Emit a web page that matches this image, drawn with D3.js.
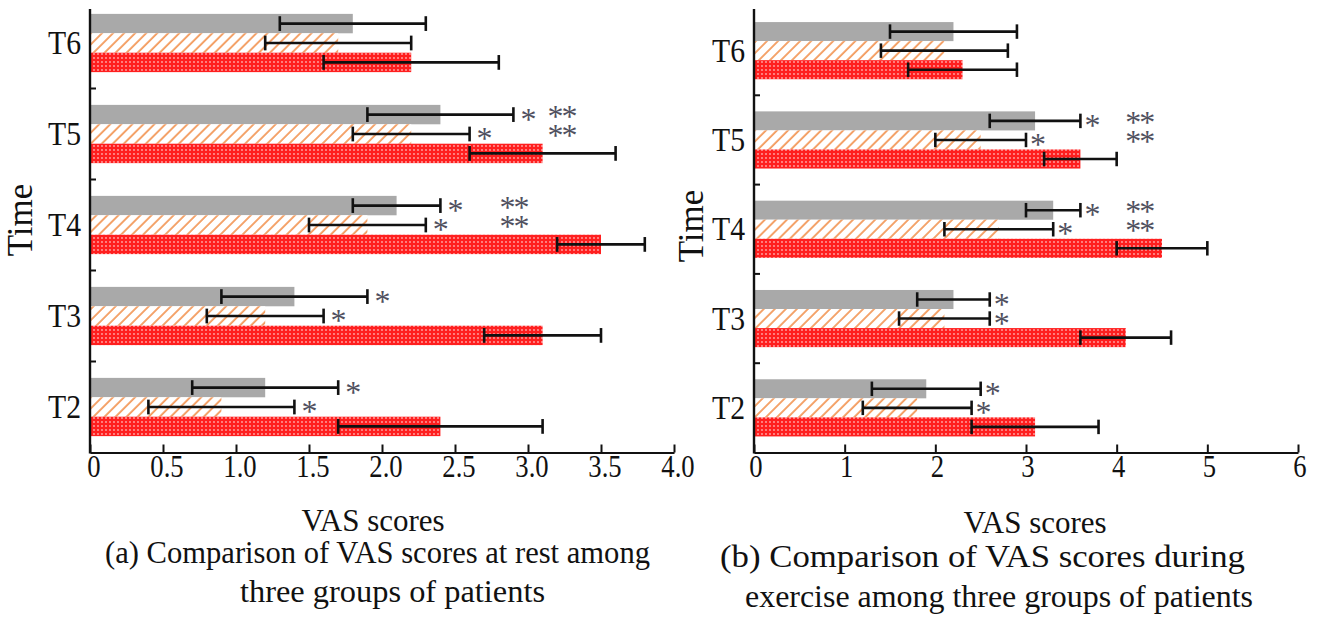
<!DOCTYPE html>
<html>
<head>
<meta charset="utf-8">
<script src="https://cdn.jsdelivr.net/npm/d3@7"></script>
<style>
  body { margin: 0; background: #fff; }
  svg text { font-family: "Times New Roman", "Liberation Serif", Tinos, Times, serif; fill: #111; }
</style>
</head>
<body>
<div id="chart"></div>
<script>
// categories (bottom to top on the chart)
const timePoints = ["T2", "T3", "T4", "T5", "T6"];
const groups = ["Group 1", "Group 2", "Group 3"]; // gray, hatched, red

// (a) VAS at rest: means and SDs per group
const restMean1 = [1.2, 1.4, 2.1, 2.4, 1.8];
const restSd1   = [0.5, 0.5, 0.3, 0.5, 0.5];
const restMean2 = [0.9, 1.2, 1.9, 2.2, 1.7];
const restSd2   = [0.5, 0.4, 0.4, 0.4, 0.5];
const restMean3 = [2.4, 3.1, 3.5, 3.1, 2.2];
const restSd3   = [0.7, 0.4, 0.3, 0.5, 0.6];
// significance marks (* after group 1 / group 2, ** pair at score value)
const restStar1 = [true, true, true, true, false];
const restStar2 = [true, true, true, true, false];
const restPair  = [null, null, 2.9, 3.23, null];

// (b) VAS during exercise
const exMean1 = [1.9, 2.2, 3.3, 3.1, 2.2];
const exSd1   = [0.6, 0.4, 0.3, 0.5, 0.7];
const exMean2 = [1.8, 2.1, 2.7, 2.5, 2.1];
const exSd2   = [0.6, 0.5, 0.6, 0.5, 0.7];
const exMean3 = [3.1, 4.1, 4.5, 3.6, 2.3];
const exSd3   = [0.7, 0.5, 0.5, 0.4, 0.6];
const exStar1 = [true, true, true, true, false];
const exStar2 = [true, true, true, true, false];
const exPair  = [null, null, 4.25, 4.25, null];

// tick values and labels
const restTicks = [0, 0.5, 1, 1.5, 2, 2.5, 3, 3.5, 4];
const restTickLabels = ["0", "0.5", "1.0", "1.5", "2.0", "2.5", "3.0", "3.5", "4.0"];
const exTicks = [0, 1, 2, 3, 4, 5, 6];
const exTickLabels = ["0", "1", "2", "3", "4", "5", "6"];

const width = 1323, height = 620;

const svg = d3.select("#chart")
    .append("svg")
    .attr("width", width)
    .attr("height", height);

// patterns
const defs = svg.append("defs");

const hatch = defs.append("pattern")
    .attr("id", "hatch")
    .attr("patternUnits", "userSpaceOnUse")
    .attr("width", 7.8)
    .attr("height", 7.8)
    .attr("patternTransform", "rotate(45)");
hatch.append("rect").attr("width", 7.8).attr("height", 7.8).attr("fill", "#fff");
hatch.append("line")
    .attr("x1", 2).attr("y1", 0).attr("x2", 2).attr("y2", 7.8)
    .attr("stroke", "#f39a5c")
    .attr("stroke-width", 1.8);

const dots = defs.append("pattern")
    .attr("id", "dots")
    .attr("patternUnits", "userSpaceOnUse")
    .attr("width", 4)
    .attr("height", 4);
dots.append("rect").attr("width", 4).attr("height", 4).attr("fill", "#ff1f1f");
dots.append("circle").attr("cx", 2).attr("cy", 2).attr("r", 0.9).attr("fill", "#ffaaaa");

const fills = ["#a9a9a9", "url(#hatch)", "url(#dots)"];
const baseY = 452.5;

function drawPanel(cfg) {
    const g = svg.append("g");

    const x = d3.scaleLinear()
        .domain([0, cfg.ticks[cfg.ticks.length - 1]])
        .range([cfg.x0, cfg.x1]);

    const y = d3.scaleBand()
        .domain(timePoints)
        .range([baseY, cfg.bandTop])
        .paddingInner(0)
        .paddingOuter(0);

    const sub = d3.scaleBand()
        .domain(groups)
        .range([y.bandwidth() * 0.18, y.bandwidth() * 0.82]);

    const rows = [];
    timePoints.forEach((t, i) => {
        groups.forEach((grp, j) => {
            rows.push({
                t: t, i: i, gi: j,
                mean: cfg.means[j][i],
                sd: cfg.sds[j][i],
                y: y(t) + sub(grp)
            });
        });
    });

    // bars
    g.selectAll("rect.bar")
        .data(rows)
        .enter()
        .append("rect")
        .attr("class", "bar")
        .attr("x", x(0))
        .attr("y", d => d.y)
        .attr("width", d => x(d.mean) - x(0))
        .attr("height", sub.bandwidth())
        .attr("fill", d => fills[d.gi]);

    // error bars
    const cap = sub.bandwidth() * 0.38;
    const mid = d => d.y + sub.bandwidth() / 2;
    const err = g.selectAll("g.err")
        .data(rows)
        .enter()
        .append("g")
        .attr("class", "err")
        .attr("stroke", "#111")
        .attr("stroke-width", 2.6);
    err.append("line")
        .attr("x1", d => x(d.mean - d.sd))
        .attr("x2", d => x(d.mean + d.sd))
        .attr("y1", mid)
        .attr("y2", mid);
    err.append("line")
        .attr("x1", d => x(d.mean - d.sd))
        .attr("x2", d => x(d.mean - d.sd))
        .attr("y1", d => mid(d) - cap)
        .attr("y2", d => mid(d) + cap);
    err.append("line")
        .attr("x1", d => x(d.mean + d.sd))
        .attr("x2", d => x(d.mean + d.sd))
        .attr("y1", d => mid(d) - cap)
        .attr("y2", d => mid(d) + cap);

    // significance stars
    const starSize = 32;
    const starShift = starSize * 0.47;
    const stars = rows.filter(d =>
        (d.gi === 0 && cfg.star1[d.i]) || (d.gi === 1 && cfg.star2[d.i]));
    g.selectAll("text.star")
        .data(stars)
        .enter()
        .append("text")
        .attr("class", "star")
        .attr("x", d => x(d.mean + d.sd) + cfg.starGap)
        .attr("y", d => mid(d) + starShift)
        .attr("text-anchor", "middle")
        .style("font-size", starSize + "px")
        .style("fill", "#50505e")
        .text("*");

    const pairs = rows.filter(d => d.gi < 2 && cfg.pair[d.i] != null);
    g.selectAll("text.pair")
        .data(pairs)
        .enter()
        .append("text")
        .attr("class", "pair")
        .attr("x", d => x(cfg.pair[d.i]))
        .attr("y", d => mid(d) + starShift - 3)
        .attr("text-anchor", "middle")
        .attr("letter-spacing", "-2px")
        .style("font-size", starSize + "px")
        .style("fill", "#50505e")
        .text("**");

    // x axis with inward ticks (labels drawn separately below)
    const xAxis = d3.axisBottom(x)
        .tickValues(cfg.ticks)
        .tickFormat("")
        .tickSizeInner(-8)
        .tickSizeOuter(0);
    const ax = g.append("g")
        .attr("transform", `translate(0,${baseY})`)
        .call(xAxis);
    ax.select(".domain").attr("stroke", "#111").attr("stroke-width", 2.2);
    ax.selectAll(".tick line").attr("stroke", "#111").attr("stroke-width", 2);
    ax.selectAll(".tick text").remove();

    g.selectAll("text.xlab")
        .data(cfg.ticks)
        .enter()
        .append("text")
        .attr("class", "xlab")
        .attr("transform", d => `translate(${x(d) + cfg.labelShift},${baseY + 24}) scale(0.86,1)`)
        .attr("text-anchor", "middle")
        .style("font-size", "31px")
        .text((d, i) => cfg.tickLabels[i]);

    // y axis: line plus ticks at band boundaries
    g.append("line")
        .attr("x1", x(0)).attr("x2", x(0))
        .attr("y1", cfg.axisTop).attr("y2", baseY + 1)
        .attr("stroke", "#111")
        .attr("stroke-width", 2.4);
    g.selectAll("line.ytick")
        .data(timePoints.slice(0, 4))
        .enter()
        .append("line")
        .attr("class", "ytick")
        .attr("x1", x(0)).attr("x2", x(0) + 6)
        .attr("y1", d => y(d)).attr("y2", d => y(d))
        .attr("stroke", "#111")
        .attr("stroke-width", 2);

    g.selectAll("text.cat")
        .data(timePoints)
        .enter()
        .append("text")
        .attr("class", "cat")
        .attr("transform", d => `translate(${x(0) - 9},${y(d) + y.bandwidth() / 2 + 11}) scale(0.9,1)`)
        .attr("text-anchor", "end")
        .style("font-size", "33px")
        .text(d => d);

    // axis titles
    g.append("text")
        .attr("transform", `translate(${cfg.timeX},${cfg.timeY}) rotate(-90)`)
        .attr("text-anchor", "middle")
        .style("font-size", "35px")
        .text("Time");

    g.append("text")
        .attr("x", cfg.vasX)
        .attr("y", cfg.vasY)
        .attr("text-anchor", "middle")
        .style("font-size", "31px")
        .text("VAS scores");

    // caption
    cfg.caption.forEach(c => {
        g.append("text")
            .attr("x", c.x0)
            .attr("y", c.y)
            .attr("textLength", c.x1 - c.x0)
            .attr("lengthAdjust", "spacingAndGlyphs")
            .style("font-size", "31px")
            .text(c.text);
    });
}

drawPanel({
    x0: 90, x1: 674, bandTop: -2.5, axisTop: 9,
    ticks: restTicks, tickLabels: restTickLabels, labelShift: 4,
    means: [restMean1, restMean2, restMean3],
    sds: [restSd1, restSd2, restSd3],
    star1: restStar1, star2: restStar2, pair: restPair, starGap: 15,
    timeX: 32, timeY: 220,
    vasX: 373, vasY: 531,
    caption: [
        { text: "(a) Comparison of VAS scores at rest among", x0: 105, x1: 650, y: 563 },
        { text: "three groups of patients", x0: 240, x1: 545, y: 602 }
    ]
});

drawPanel({
    x0: 754, x1: 1298, bandTop: 6, axisTop: 9,
    ticks: exTicks, tickLabels: exTickLabels, labelShift: 2,
    means: [exMean1, exMean2, exMean3],
    sds: [exSd1, exSd2, exSd3],
    star1: exStar1, star2: exStar2, pair: exPair, starGap: 12,
    timeX: 703, timeY: 226,
    vasX: 1035, vasY: 533,
    caption: [
        { text: "(b) Comparison of VAS scores during", x0: 720, x1: 1245, y: 567 },
        { text: "exercise among three groups of patients", x0: 745, x1: 1253, y: 607 }
    ]
});
</script>
</body>
</html>
